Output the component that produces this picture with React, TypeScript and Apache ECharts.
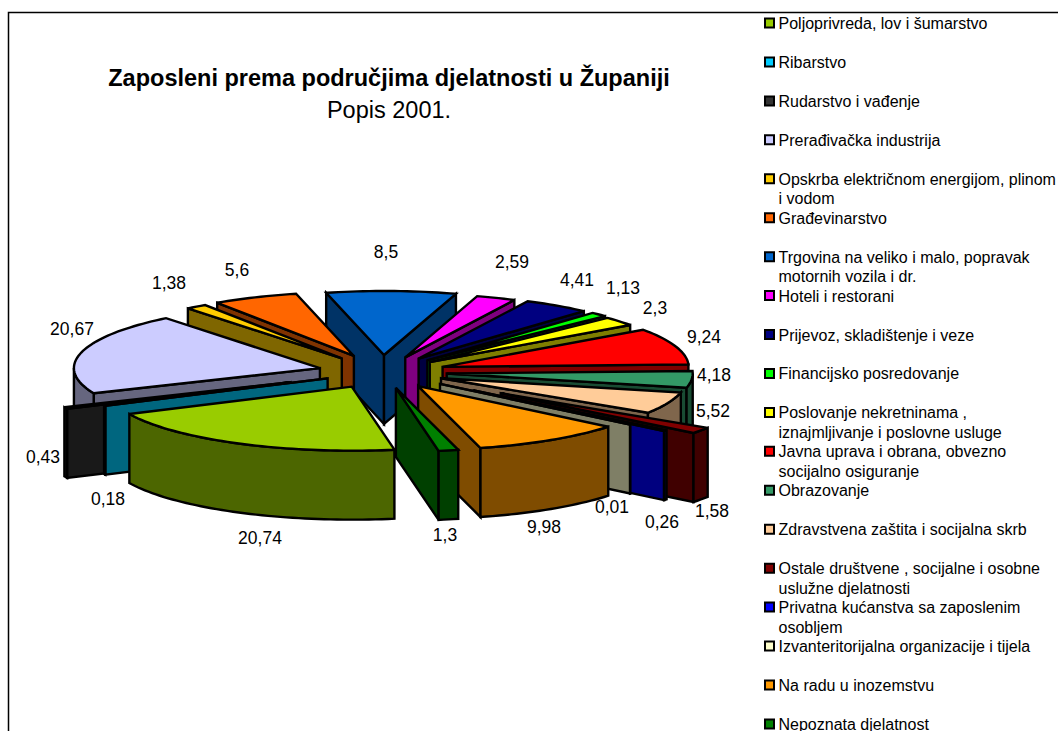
import React, { useEffect, useRef } from "react";
import * as echarts from "echarts";

const titleMain = "Zaposleni prema područjima djelatnosti u Županiji";
const titleSub = "Popis 2001.";

const categories = [
  "Poljoprivreda, lov i šumarstvo",
  "Ribarstvo",
  "Rudarstvo i vađenje",
  "Prerađivačka industrija",
  "Opskrba električnom energijom, plinom\ni vodom",
  "Građevinarstvo",
  "Trgovina na veliko i malo, popravak\nmotornih vozila i dr.",
  "Hoteli i restorani",
  "Prijevoz, skladištenje i veze",
  "Financijsko posredovanje",
  "Poslovanje nekretninama ,\niznajmljivanje i poslovne usluge",
  "Javna uprava i obrana, obvezno\nsocijalno osiguranje",
  "Obrazovanje",
  "Zdravstvena zaštita i socijalna skrb",
  "Ostale društvene , socijalne i osobne\nuslužne djelatnosti",
  "Privatna kućanstva sa zaposlenim\nosobljem",
  "Izvanteritorijalna organizacije i tijela",
  "Na radu u inozemstvu",
  "Nepoznata djelatnost",
];

const values = [20.74, 0.18, 0.43, 20.67, 1.38, 5.6, 8.5, 2.59, 4.41, 1.13, 2.3, 9.24, 4.18, 5.52, 1.58, 0.26, 0.01, 9.98, 1.3];

const colors = [
  "#99cc00", "#00ccff", "#333333", "#ccccff", "#ffcc00", "#ff6600", "#0066cc", "#ff00ff", "#000080", "#00ff00",
  "#ffff00", "#ff0000", "#339966", "#ffcc99", "#800000", "#0000ff", "#ffffcc", "#ff9900", "#008000",
];

// Explosion of each slice away from the pie's centre (style, in px along x).
const explode = [66, 60, 100, 64, 68, 70, 68, 63, 65, 65, 62, 64, 65, 64, 146, 118, 75, 67, 65];

// Where each value label is centred.
const labelAt: [number, number][] = [
  [260, 538], [108, 499], [43, 457], [72, 329], [169, 283], [237, 270], [386, 252], [512, 262], [577, 280], [623, 288],
  [655, 308], [704, 337], [714, 375], [713, 411], [712, 511], [662, 522], [612, 507], [544, 527], [445, 535],
];

const FONT = '"Liberation Sans", Arial, sans-serif';
const START_DEG = 170;
const CX = 382;
const CY = 372;
const RX = 246;
const RY = 64;
const DEPTH = 69;
const Y_SQUASH = 0.25;

const total = values.reduce((a, b) => a + b, 0);
const rad = (d: number) => (d * Math.PI) / 180;

const angles = (i: number): [number, number] => {
  let c = 0;
  for (let k = 0; k < i; k++) c += values[k];
  const a = START_DEG + (c / total) * 360;
  return [a, a + (values[i] / total) * 360];
};

const mids = values.map((_, i) => {
  const [a, b] = angles(i);
  return (a + b) / 2;
});
// Paint back slices first: the higher on the ellipse, the earlier.
const paintOrder = values.map((_, i) => i).sort((p, q) => Math.cos(rad(mids[q])) - Math.cos(rad(mids[p])));
const rank: number[] = [];
paintOrder.forEach((idx, r) => (rank[idx] = r));

const darken = (hex: string) => {
  const n = parseInt(hex.slice(1), 16);
  const h = (v: number) => Math.floor(v / 2).toString(16).padStart(2, "0");
  return "#" + h((n >> 16) & 255) + h((n >> 8) & 255) + h(n & 255);
};

const renderItem = (params: any, api: any) => {
  const i = params.dataIndex;
  api.value(0);
  const [a, b] = angles(i);
  const m = (a + b) / 2;
  const ax = CX + explode[i] * Math.sin(rad(m));
  const ay = CY - explode[i] * Y_SQUASH * Math.cos(rad(m));
  const pt = (d: number, h = 0): number[] => [ax + RX * Math.sin(rad(d)), ay - RY * Math.cos(rad(d)) + h];
  const arc = (from: number, to: number, h = 0) => {
    const pts: number[][] = [];
    const n = Math.max(1, Math.ceil(Math.abs(to - from) / 1.5));
    for (let k = 0; k <= n; k++) pts.push(pt(from + ((to - from) * k) / n, h));
    return pts;
  };
  const base = rank[i] * 10;
  const top = colors[i];
  const side = darken(top);
  const line = { stroke: "#000", lineWidth: 2.4, lineJoin: "miter", miterLimit: 3 };
  const children: any[] = [];
  const face = (d: number, z: number) => {
    const c = pt(d);
    const e = pt(d, DEPTH);
    children.push({
      type: "polygon",
      z2: base + z,
      silent: true,
      shape: { points: [[ax, ay], c, e, [ax, ay + DEPTH]] },
      style: { fill: side, ...line },
    });
  };
  if (Math.sin(rad(a)) < 0) face(a, 1);
  if (Math.sin(rad(b)) > 0) face(b, 2);
  [[90, 270], [450, 630]].forEach(([lo, hi]) => {
    const from = Math.max(a, lo);
    const to = Math.min(b, hi);
    if (to > from) {
      children.push({
        type: "polygon",
        z2: base + 3,
        silent: true,
        shape: { points: [...arc(from, to), ...arc(to, from, DEPTH)] },
        style: { fill: side, ...line },
      });
    }
  });
  children.push({
    type: "polygon",
    z2: base + 4,
    silent: true,
    shape: { points: [[ax, ay], ...arc(a, b)] },
    style: { fill: top, ...line },
  });
  children.push({
    type: "text",
    z2: 1000,
    silent: true,
    style: {
      text: String(values[i]).replace(".", ","),
      x: labelAt[i][0],
      y: labelAt[i][1],
      align: "center",
      verticalAlign: "middle",
      fill: "#000",
      font: `17.5px ${FONT}`,
    },
  });
  return { type: "group", children };
};

const legendTop = 23.5;
const legendPitch = 38.94;
const legendGraphics = categories.flatMap((name, i) => {
  const y = legendTop + i * legendPitch;
  const lines = name.split("\n");
  return [
    {
      type: "rect",
      silent: true,
      shape: { x: 765, y: y - 5, width: 9, height: 9 },
      style: { fill: colors[i], stroke: "#000", lineWidth: 2 },
    },
    ...lines.map((t, k) => ({
      type: "text",
      silent: true,
      style: {
        text: t,
        x: 778.5,
        y: y + k * 19.5,
        verticalAlign: "middle",
        fill: "#000",
        font: `16px ${FONT}`,
      },
    })),
  ];
});

export default function App() {
  const ref = useRef<HTMLDivElement>(null);
  useEffect(() => {
    document.body.style.margin = "0";
    document.body.style.overflow = "hidden";
    const chart = echarts.init(ref.current!, undefined, { renderer: "svg" });
    chart.setOption({
      animation: false,
      backgroundColor: "#fff",
      graphic: [
        {
          type: "rect",
          silent: true,
          z: 0,
          shape: { x: 8.5, y: 12.5, width: 1100, height: 800 },
          style: { fill: "none", stroke: "#000", lineWidth: 1.5 },
        },
        {
          type: "text",
          silent: true,
          style: { text: titleMain, x: 389, y: 78, align: "center", verticalAlign: "middle", fill: "#000", font: `bold 23.5px ${FONT}` },
        },
        {
          type: "text",
          silent: true,
          style: { text: titleSub, x: 389, y: 110, align: "center", verticalAlign: "middle", fill: "#000", font: `23.5px ${FONT}` },
        },
        ...legendGraphics,
      ],
      series: [
        {
          type: "custom",
          coordinateSystem: "none",
          renderItem,
          clip: false,
          data: categories.map((name, i) => ({ name: name.replace("\n", " "), value: [values[i]] })),
        },
      ],
    });
    return () => chart.dispose();
  }, []);
  return <div ref={ref} style={{ width: 1058, height: 731 }} />;
}
